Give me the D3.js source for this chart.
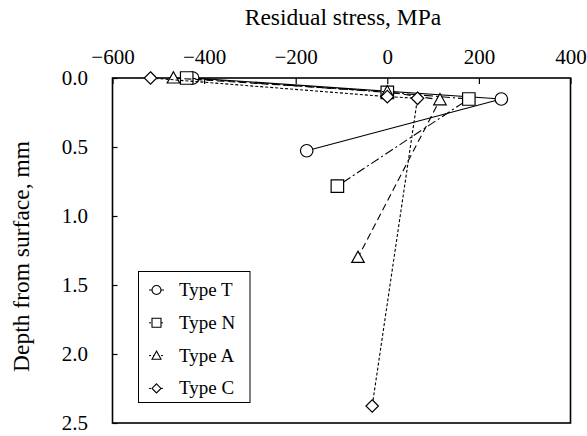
<!DOCTYPE html>
<html>
<head>
<meta charset="utf-8">
<script src="https://cdn.jsdelivr.net/npm/d3@7"></script>
<style>
  html, body { margin: 0; padding: 0; background: #fff; }
  svg { display: block; }
  svg text { font-family: 'Liberation Serif', 'Times New Roman', serif !important; fill: #000; }
</style>
</head>
<body>
<svg id="chart" width="587" height="436"></svg>
<script>
// Residual stress (MPa) against depth from surface (mm) for each type
const typeT_stress = [-425, 249, -176];
const typeT_depth  = [0.0, 0.152, 0.527];

const typeN_stress = [-438, 0, 178, -109];
const typeN_depth  = [0.0, 0.104, 0.152, 0.783];

const typeA_stress = [-467, 0, 115, -64];
const typeA_depth  = [0.0, 0.100, 0.158, 1.30];

const typeC_stress = [-517, 0, 66, -33];
const typeC_depth  = [0.0, 0.135, 0.147, 2.377];

const seriesNames = ["Type T", "Type N", "Type A", "Type C"];
const xTicks = [-600, -400, -200, 0, 200, 400];
const yTicks = [0.0, 0.5, 1.0, 1.5, 2.0, 2.5];

const series = [
  { name: seriesNames[0], x: typeT_stress, y: typeT_depth, symbol: "circle",   dash: null },
  { name: seriesNames[1], x: typeN_stress, y: typeN_depth, symbol: "square",   dash: "9,3,2,3" },
  { name: seriesNames[2], x: typeA_stress, y: typeA_depth, symbol: "triangle", dash: "7,4" },
  { name: seriesNames[3], x: typeC_stress, y: typeC_depth, symbol: "diamond",  dash: "3,2" }
];

const FONT = "'Liberation Serif', 'Times New Roman', serif";
const svg = d3.select("#chart");
const plot = { left: 112.5, right: 570.5, top: 78, bottom: 423 };

const x = d3.scaleLinear().domain([-600, 400]).range([plot.left, plot.right]);
const y = d3.scaleLinear().domain([0, 2.5]).range([plot.top, plot.bottom]);

// Axes: ticks point inward, tick labels sit outside the frame
const xAxis = d3.axisTop(x).tickValues(xTicks).tickSizeInner(-6).tickSizeOuter(0)
  .tickPadding(14).tickFormat(d3.format("d"));
const yAxis = d3.axisLeft(y).tickValues(yTicks).tickSizeInner(-5).tickSizeOuter(0)
  .tickPadding(24.5).tickFormat(d3.format(".1f"));

const gx = svg.append("g").attr("transform", `translate(0,${plot.top})`).call(xAxis);
const gy = svg.append("g").attr("transform", `translate(${plot.left},0)`).call(yAxis);
[gx, gy].forEach(g => {
  g.attr("font-family", FONT).attr("font-size", 21);
  g.select(".domain").remove();
  g.selectAll(".tick line").attr("stroke", "#000").attr("stroke-width", 1.2);
  g.selectAll(".tick text").attr("font-family", FONT).attr("font-size", 21);
});

// Plot frame
svg.append("rect")
  .attr("x", plot.left).attr("y", plot.top)
  .attr("width", plot.right - plot.left).attr("height", plot.bottom - plot.top)
  .attr("fill", "none").attr("stroke", "#000").attr("stroke-width", 1.6);

// Axis titles
svg.append("text")
  .attr("x", 343).attr("y", 25)
  .attr("text-anchor", "middle").attr("font-size", 23.5)
  .text("Residual stress, MPa");

svg.append("text")
  .attr("transform", `translate(29,${(plot.top + plot.bottom) / 2 + 6}) rotate(-90)`)
  .attr("text-anchor", "middle").attr("font-size", 23.5)
  .text("Depth from surface, mm");

// Marker shapes (size in pixels, roughly the marker width)
function markerPath(symbol, s) {
  const h = s / 2;
  switch (symbol) {
    case "circle":
      return `M${h},0 A${h},${h} 0 1,1 ${-h},0 A${h},${h} 0 1,1 ${h},0 Z`;
    case "square":
      return `M${-h},${-h} L${h},${-h} L${h},${h} L${-h},${h} Z`;
    case "triangle":
      return `M0,${-h} L${h},${h * 0.8} L${-h},${h * 0.8} Z`;
    case "diamond":
      return `M0,${-h} L${h},0 L0,${h} L${-h},0 Z`;
  }
}

const line = d3.line().x(d => x(d[0])).y(d => y(d[1]));

series.forEach(s => {
  const pts = s.x.map((v, i) => [v, s.y[i]]);
  const g = svg.append("g");
  g.append("path")
    .attr("d", line(pts))
    .attr("fill", "none").attr("stroke", "#000").attr("stroke-width", 1.1)
    .attr("stroke-dasharray", s.dash);
  g.selectAll("path.mk").data(pts).enter().append("path")
    .attr("class", "mk")
    .attr("transform", d => `translate(${x(d[0])},${y(d[1])})`)
    .attr("d", markerPath(s.symbol, 12.5))
    .attr("fill", "#fff").attr("stroke", "#000").attr("stroke-width", 1.2);
});

// Legend
const legend = svg.append("g");
legend.append("rect")
  .attr("x", 138.5).attr("y", 271.5).attr("width", 111.5).attr("height", 131)
  .attr("fill", "#fff").attr("stroke", "#000").attr("stroke-width", 1);

series.forEach((s, i) => {
  const cy = 290 + i * 32.8;
  legend.append("line")
    .attr("x1", 149).attr("x2", 164).attr("y1", cy).attr("y2", cy)
    .attr("stroke", "#000").attr("stroke-width", 1)
    .attr("stroke-dasharray", s.dash ? "2,2" : null);
  legend.append("path")
    .attr("transform", `translate(156.5,${cy})`)
    .attr("d", markerPath(s.symbol, 9))
    .attr("fill", "#fff").attr("stroke", "#000").attr("stroke-width", 1.1);
  legend.append("text")
    .attr("x", 179).attr("y", cy + 6)
    .attr("font-size", 19)
    .text(s.name);
});
</script>
</body>
</html>
